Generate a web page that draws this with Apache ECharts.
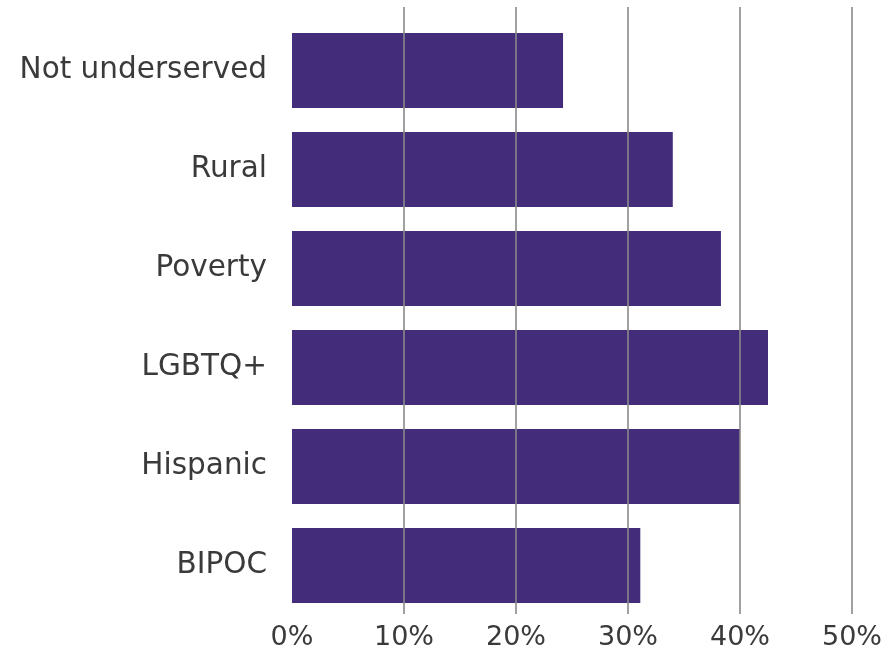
<!DOCTYPE html>
<html>
<head>
<meta charset="utf-8">
<script src="https://cdn.jsdelivr.net/npm/echarts@6/dist/echarts.min.js"></script>
<style>
  html, body { margin: 0; padding: 0; background: #ffffff; }
  #chart { width: 894px; height: 652px; }
</style>
</head>
<body>
<div id="chart"></div>
<script>
// Share of respondents by group (%)
const categories = ['Not underserved', 'Rural', 'Poverty', 'LGBTQ+', 'Hispanic', 'BIPOC'];
const values = [24.2, 34.0, 38.3, 42.5, 40.0, 31.1];
const tickMax = 50;
const tickStep = 10;

const FONT = 'DejaVu Sans';
const TEXT = '#3a3a3a';
const BAR = '#432d7b';

const chart = echarts.init(document.getElementById('chart'), null, { renderer: 'canvas' });

chart.setOption({
  animation: false,
  backgroundColor: '#ffffff',
  grid: [
    // grid for the vertical gridlines and percentage ticks
    { left: 292, right: 42, top: 7, bottom: 38 },
    // grid for the bars and category labels
    { left: 292, right: 42, top: 21, bottom: 37 }
  ],
  xAxis: [
    {
      gridIndex: 0,
      type: 'value',
      min: 0,
      max: tickMax,
      interval: tickStep,
      z: 5,
      axisLine: { show: false },
      axisTick: { show: false },
      splitLine: { show: true, showMinLine: false, lineStyle: { color: '#8a8a8a', width: 1.6 } },
      axisLabel: {
        formatter: '{value}%',
        color: TEXT,
        fontFamily: FONT,
        fontSize: 27,
        margin: 10
      }
    },
    {
      gridIndex: 1,
      type: 'value',
      min: 0,
      max: tickMax,
      show: false
    }
  ],
  yAxis: [
    { gridIndex: 0, type: 'value', show: false },
    {
      gridIndex: 1,
      type: 'category',
      data: categories,
      inverse: true,
      axisLine: { show: false },
      axisTick: { show: false },
      axisLabel: {
        color: TEXT,
        fontFamily: FONT,
        fontSize: 29.5,
        margin: 25,
        padding: [5, 0, 0, 0]
      }
    }
  ],
  series: [
    {
      type: 'bar',
      xAxisIndex: 1,
      yAxisIndex: 1,
      data: values,
      barWidth: 75,
      itemStyle: { color: BAR },
      silent: true
    }
  ]
});
</script>
</body>
</html>
